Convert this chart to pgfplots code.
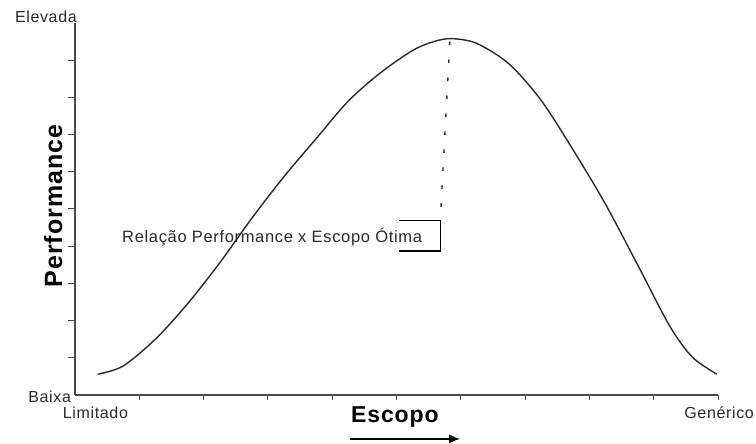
\documentclass[border=0pt]{standalone}
\usepackage{pgfplots}
\pgfplotsset{compat=1.18}
\usetikzlibrary{arrows.meta}
\usepackage{fontspec}
\setmainfont{Liberation Sans}[LetterSpace=4]
\definecolor{ink}{HTML}{2A2A2A}
\definecolor{axisgray}{HTML}{4A4A4A}
\begin{document}
\begin{tikzpicture}
\begin{axis}[
  x=64.3pt, y=37.2pt,
  xmin=0, xmax=10, ymin=0, ymax=10,
  axis x line=bottom, axis y line=left,
  axis line style={-, line width=1.4pt, draw=axisgray},
  xtick={1,2,3,4,5,6,7,8,9,10},
  ytick={1,2,3,4,5,6,7,8,9},
  xticklabels={}, yticklabels={},
  tick align=outside,
  major tick length=7pt,
  xtick style={/pgfplots/major tick length=5pt},
  tick style={line width=1pt, draw=axisgray},
  clip=false,
]
\addplot[smooth, line width=1.4pt, draw=ink] coordinates {
(0.36,0.56)(0.75,0.78)(1.25,1.50)(1.75,2.45)(2.25,3.55)(2.75,4.75)(3.25,5.87)
(3.75,6.89)(4.25,7.90)(4.75,8.66)(5.25,9.26)(5.58,9.50)(5.86,9.58)(6.25,9.45)
(6.75,8.90)(7.25,7.92)(7.75,6.58)(8.25,5.13)(8.75,3.50)(9.25,1.85)(9.60,1.02)
(9.98,0.56)};
% dotted guide from the peak to the callout
\addplot[line width=1.4pt, draw=ink, dash pattern=on 3.5pt off 14.5pt] coordinates {(5.83,9.50)(5.68,4.68)};
% bracket of the callout
\addplot[line width=1.1pt, draw=black] coordinates {(5.04,4.68)(5.68,4.68)(5.68,3.87)(5.04,3.87)};
\node[anchor=base east, inner sep=0, text=ink, font=\fontsize{16.5}{18}\selectfont] at (axis cs:5.40,4.11) {Relação Performance x Escopo Ótima};
\node[anchor=base east, inner sep=0, text=ink, font=\fontsize{16}{18}\selectfont] at (axis cs:0.03,10.0) {Elevada};
\node[anchor=base east, inner sep=0, text=ink, font=\fontsize{16}{18}\selectfont] at (axis cs:-0.06,-0.215) {Baixa};
\node[anchor=base west, inner sep=0, text=ink, font=\fontsize{16}{18}\selectfont] at (axis cs:-0.19,-0.645) {Limitado};
\node[anchor=base east, inner sep=0, text=ink, font=\fontsize{16}{18}\selectfont] at (axis cs:10.56,-0.62) {Genérico};
\node[anchor=base west, inner sep=0, text=black, font=\fontsize{23}{26}\selectfont\bfseries] at (axis cs:4.29,-0.726) {Escopo};
\node[anchor=base, rotate=90, inner sep=0, text=black, font=\fontsize{25}{28}\selectfont\bfseries] at (axis cs:-0.2,5.08) {Performance};
\draw[line width=1.3pt, draw=black, -{Latex[length=11pt,width=9pt]}] (axis cs:4.28,-1.18) -- (axis cs:5.99,-1.18);
\coordinate (BL) at (axis cs:-1.166,-1.317);
\coordinate (TR) at (axis cs:10.591,10.618);
\end{axis}
\pgfresetboundingbox
\path[use as bounding box] (BL) rectangle (TR);
\end{tikzpicture}
\end{document}
